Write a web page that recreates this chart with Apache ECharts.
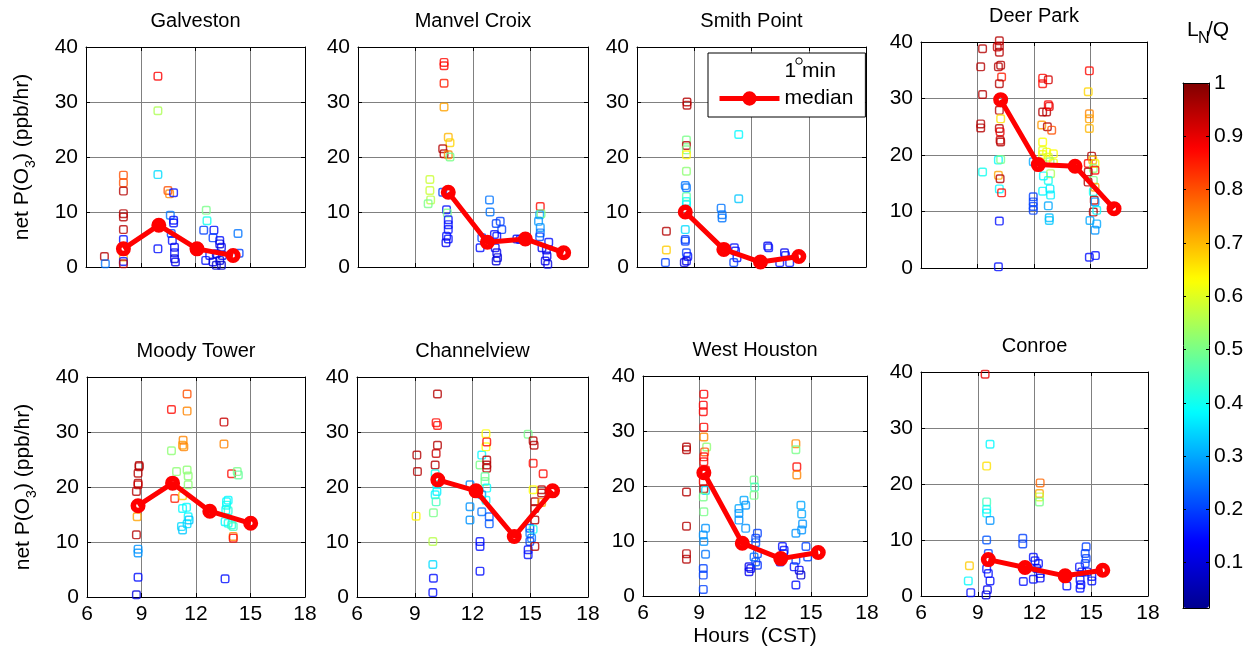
<!DOCTYPE html>
<html><head><meta charset="utf-8">
<script src="https://cdn.jsdelivr.net/npm/echarts@6/dist/echarts.min.js"></script>
<style>html,body{margin:0;padding:0;background:#fff}#c{width:1248px;height:653px}</style>
</head><body><div id="c"></div>
<script>
// ---------- DATA ----------
const stations = ['Galveston','Manvel Croix','Smith Point','Deer Park','Moody Tower','Channelview','West Houston','Conroe'];
// points: [hour (CST), net P(O3) ppb/hr, L_N/Q]
const galveston = [[7.01,1.9,0.95],[7.06,0.6,0.25],[8.05,16.7,0.8],[8.05,15.3,0.8],[8.05,13.8,0.95],[8.05,9.7,0.95],[8.05,9.1,0.95],[8.05,6.8,0.95],[8.05,5.0,0.15],[8.05,1.8,0.7],[8.05,1.0,0.15],[8.05,0.6,0.95],
 [9.94,34.7,0.88],[9.94,28.4,0.55],[9.94,16.8,0.35],[9.94,3.3,0.15],[10.49,13.9,0.8],[10.58,13.3,0.75],[10.8,13.5,0.15],[10.62,9.4,0.25],[10.8,8.5,0.15],[10.8,8.0,0.15],[10.67,6.1,0.2],[10.73,4.8,0.15],[10.85,3.6,0.12],[10.85,2.6,0.15],[10.85,1.5,0.1],[10.9,0.9,0.12],
 [12.59,10.3,0.5],[12.63,8.4,0.4],[12.45,6.7,0.2],[12.14,3.3,0.2],[12.56,1.2,0.15],[12.78,2.1,0.15],[13.01,6.7,0.15],[12.96,5.3,0.2],[13.33,4.8,0.15],[13.33,4.2,0.1],[13.42,3.6,0.12],[13.14,2.4,0.1],[12.96,0.9,0.1],[13.14,0.3,0.08],[13.42,0.3,0.08],[13.33,1.2,0.1],[13.47,2.1,0.12],[14.33,6.1,0.25],[14.39,2.5,0.2]];
const manvelCroix = [[10.49,37.2,0.87],[10.49,36.6,0.87],[10.49,33.4,0.85],[10.49,29.1,0.72],[10.71,23.6,0.7],[10.8,22.6,0.67],[10.42,21.5,0.95],[10.49,20.6,0.95],[10.71,20.4,0.75],[10.8,20.0,0.5],
 [9.75,15.9,0.58],[9.75,13.9,0.58],[9.79,12.2,0.56],[9.66,11.5,0.5],[10.42,13.6,0.2],[10.62,10.4,0.15],[10.66,9.8,0.5],[10.71,8.6,0.15],[10.71,7.7,0.15],[10.71,6.8,0.15],[10.62,5.6,0.15],[10.71,5.1,0.15],[10.59,4.4,0.12],
 [12.86,12.2,0.25],[12.89,10.0,0.25],[13.21,7.9,0.2],[13.42,8.3,0.2],[13.5,6.8,0.2],[13.12,5.9,0.15],[13.24,5.6,0.15],[12.37,3.5,0.15],[13.16,3.5,0.12],[13.24,2.6,0.12],[13.28,1.7,0.1],[13.21,1.1,0.1],[12.46,5.3,0.2],
 [14.29,5.1,0.15],[14.46,5.0,0.15],[14.67,5.1,0.2],[15.51,11.0,0.87],[15.48,9.5,0.3],[15.55,9.7,0.5],[15.42,8.3,0.28],[15.51,7.2,0.28],[15.51,6.2,0.25],[15.48,5.5,0.2],[15.95,4.5,0.15],[15.6,3.5,0.12],[15.83,3.1,0.12],[15.86,2.0,0.12],[15.77,1.1,0.12],[15.9,0.5,0.1]];
const smithPoint = [[7.49,0.8,0.2],[7.54,3.1,0.68],[7.54,6.5,0.95],[8.62,30.0,0.95],[8.62,29.4,0.95],[8.59,23.1,0.5],[8.59,22.1,0.95],[8.59,21.3,0.5],[8.59,20.4,0.64],[8.59,17.4,0.52],[8.53,14.8,0.25],[8.59,14.4,0.25],[8.59,12.8,0.47],[8.59,11.9,0.4],[8.59,11.3,0.38],[8.53,6.8,0.35],[8.53,5.0,0.2],[8.53,4.7,0.2],[8.59,2.6,0.2],[8.66,1.9,0.15],[8.59,1.1,0.12],[8.48,0.8,0.1],
 [10.41,10.7,0.25],[10.46,9.5,0.25],[10.46,8.9,0.25],[11.33,24.1,0.38],[11.33,12.4,0.33],[11.1,3.5,0.15],[11.16,2.9,0.15],[11.24,1.7,0.15],[11.07,0.8,0.2],
 [12.85,3.8,0.12],[12.9,3.5,0.15],[13.48,0.8,0.15],[13.73,2.6,0.12],[13.78,2.1,0.15],[14.0,0.8,0.15]];
const deerPark = [[9.27,38.8,0.95],[9.17,35.6,0.95],[9.27,30.7,0.95],[9.17,25.5,0.95],[9.17,24.8,0.95],[9.27,17.0,0.4],
 [10.16,40.2,0.95],[10.16,39.3,0.95],[10.05,39.1,0.93],[10.16,38.2,0.95],[10.23,35.9,0.95],[10.11,35.6,0.95],[10.28,33.8,0.85],[10.16,32.6,0.95],[10.16,27.9,0.95],[10.23,26.4,0.66],[10.16,24.7,0.95],[10.2,24.1,0.9],[10.2,22.6,0.93],[10.23,22.3,0.95],[10.11,19.1,0.38],[10.23,19.2,0.5],[10.11,16.4,0.72],[10.2,15.8,0.95],[10.16,14.0,0.38],[10.28,13.3,0.87],[10.16,8.3,0.15],[10.11,0.2,0.15],
 [12.46,33.6,0.87],[12.46,32.6,0.87],[12.76,33.3,0.92],[12.46,27.6,0.95],[12.67,27.6,0.95],[12.76,28.9,0.88],[12.81,28.6,0.9],[12.41,25.3,0.73],[12.71,25.0,0.95],[12.94,24.4,0.8],[12.46,22.3,0.63],[12.46,20.8,0.6],[12.67,20.5,0.62],[13.03,20.2,0.63],[12.46,20.1,0.62],[12.76,19.6,0.6],[12.85,18.8,0.52],[13.03,18.6,0.62],[11.96,18.8,0.3],[12.5,16.3,0.38],[12.88,16.7,0.55],[12.76,15.5,0.4],[12.46,13.6,0.38],[12.85,14.0,0.37],[12.88,12.9,0.37],[11.96,12.6,0.2],[11.96,11.7,0.2],[11.96,10.9,0.2],[11.96,10.2,0.2],[12.76,11.0,0.3],[12.81,8.9,0.32],[12.81,8.4,0.33],
 [14.94,34.9,0.87],[14.88,31.2,0.67],[14.94,27.3,0.75],[14.94,26.4,0.72],[14.94,24.7,0.7],[15.06,19.8,0.95],[14.88,18.5,0.87],[15.12,19.1,0.7],[15.24,18.5,0.62],[15.15,17.6,0.52],[15.24,17.3,0.87],[14.88,17.0,0.95],[14.87,15.2,0.95],[15.15,15.5,0.5],[15.24,14.3,0.72],[15.15,13.5,0.4],[15.2,12.0,0.95],[15.24,11.7,0.28],[15.15,9.9,0.95],[15.33,10.2,0.38],[14.97,8.4,0.3],[15.33,7.8,0.3],[15.24,6.7,0.28],[14.94,1.9,0.15],[15.26,2.2,0.15]];
const moodyTower = [[8.87,23.9,0.95],[8.87,23.7,0.95],[8.81,22.5,0.95],[8.81,20.7,0.95],[8.81,20.4,0.93],[8.72,19.2,0.95],[8.76,14.6,0.72],[8.72,11.3,0.95],[8.81,8.7,0.28],[8.81,8.0,0.28],[8.81,3.6,0.15],[8.72,0.4,0.1],
 [10.65,34.1,0.87],[10.65,26.6,0.52],[10.83,17.9,0.85],[10.93,22.8,0.52],[11.51,36.9,0.8],[11.51,33.8,0.75],[11.29,28.5,0.75],[11.26,27.6,0.73],[11.33,27.3,0.75],[11.51,23.1,0.52],[11.57,22.0,0.52],[11.57,20.4,0.52],[11.26,18.4,0.68],[11.26,16.1,0.38],[11.48,16.3,0.38],[11.57,14.6,0.38],[11.2,12.8,0.35],[11.26,12.2,0.33],[11.51,13.3,0.35],[11.62,14.0,0.33],
 [13.54,31.8,0.93],[13.54,27.8,0.75],[13.96,22.4,0.87],[14.27,22.8,0.5],[14.33,22.2,0.48],[13.68,17.3,0.38],[13.77,17.6,0.38],[13.68,16.7,0.4],[13.64,15.8,0.38],[13.77,15.7,0.42],[13.6,13.7,0.38],[13.77,13.4,0.4],[13.96,13.1,0.42],[14.05,12.8,0.45],[14.05,11.0,0.75],[14.05,10.7,0.87],[13.6,3.3,0.15]];
const channelview = [[9.11,25.8,0.95],[9.14,22.8,0.95],[9.07,14.7,0.64],
 [10.18,36.9,0.95],[10.11,31.7,0.87],[10.18,31.2,0.87],[10.18,27.6,0.95],[10.11,26.1,0.93],[10.06,24.0,0.95],[10.06,22.4,0.4],[10.15,20.4,0.38],[10.15,19.2,0.37],[10.06,18.6,0.38],[10.11,17.3,0.45],[9.97,15.3,0.5],[9.94,10.1,0.56],[9.94,5.9,0.35],[9.97,3.4,0.15],[9.94,0.8,0.15],
 [11.87,20.4,0.27],[11.87,16.4,0.28],[11.87,14.0,0.28],[12.48,25.8,0.38],[12.39,24.0,0.5],[12.7,29.7,0.63],[12.7,27.3,0.63],[12.74,28.2,0.87],[12.74,24.9,0.95],[12.74,24.0,0.95],[12.74,23.4,0.95],[12.65,21.9,0.48],[12.65,21.0,0.5],[12.74,19.8,0.38],[12.48,18.6,0.28],[12.7,17.6,0.38],[12.48,15.5,0.25],[12.87,14.6,0.22],[12.87,13.3,0.22],[12.39,10.1,0.15],[12.39,9.2,0.15],[12.39,4.7,0.15],
 [14.89,29.6,0.5],[15.15,28.4,0.95],[15.2,27.6,0.95],[15.15,24.3,0.87],[15.67,22.4,0.87],[15.59,19.5,0.95],[15.59,18.9,0.95],[15.15,19.5,0.63],[15.24,17.3,0.95],[15.59,17.2,0.72],[15.24,16.1,0.95],[15.24,14.0,0.95],[14.98,12.5,0.2],[15.15,12.3,0.4],[14.98,11.6,0.25],[15.07,10.7,0.25],[14.98,10.1,0.2],[14.89,8.6,0.15],[14.89,7.7,0.15],[15.24,9.2,0.95]];
const westHouston = [[8.33,27.1,0.95],[8.33,26.6,0.95],[8.33,18.9,0.95],[8.33,12.7,0.95],[8.33,7.7,0.95],[8.33,6.7,0.95],
 [9.26,36.7,0.88],[9.23,34.7,0.88],[9.23,33.5,0.88],[9.26,30.7,0.87],[9.26,28.9,0.75],[9.41,27.1,0.52],[9.3,26.2,0.8],[9.26,25.3,0.87],[9.26,24.4,0.87],[9.35,22.9,0.87],[9.23,20.8,0.87],[9.26,19.5,0.95],[9.35,19.2,0.35],[9.23,18.0,0.5],[9.26,15.3,0.5],[9.35,12.3,0.28],[9.23,11.1,0.28],[9.26,9.9,0.28],[9.35,7.6,0.25],[9.23,5.0,0.2],[9.23,3.8,0.2],[9.23,1.2,0.2],
 [11.14,15.9,0.3],[11.14,15.0,0.28],[11.14,13.8,0.28],[11.41,17.4,0.3],[11.5,16.5,0.28],[11.5,12.3,0.28],[11.95,21.1,0.5],[11.98,19.8,0.45],[11.95,18.3,0.5],[11.68,5.3,0.12],[11.77,5.0,0.12],[11.68,4.4,0.12],[12.13,11.4,0.2],[12.04,10.5,0.2],[12.04,9.7,0.22],[12.13,7.7,0.2],[11.95,7.1,0.25],[12.04,6.2,0.22],[12.13,5.6,0.18],
 [13.47,9.0,0.15],[13.56,8.3,0.15],[13.53,7.7,0.15],[13.35,6.2,0.15],[14.19,27.7,0.75],[14.19,26.6,0.5],[14.24,23.5,0.87],[14.24,22.0,0.75],[14.46,16.5,0.3],[14.5,14.9,0.3],[14.55,13.1,0.28],[14.5,12.0,0.28],[14.19,11.4,0.28],[14.19,2.0,0.15],[14.1,5.3,0.15],[14.37,4.7,0.12],[14.46,3.8,0.08],[14.19,6.5,0.2],[14.73,9.0,0.2],[14.82,7.1,0.2]];
const conroe = [[8.56,5.4,0.68],[8.5,2.7,0.38],[8.63,0.6,0.15],
 [9.39,39.6,0.9],[9.65,27.1,0.38],[9.47,23.2,0.66],[9.47,16.8,0.45],[9.47,15.5,0.4],[9.47,14.8,0.38],[9.65,13.5,0.28],[9.47,10.0,0.22],[9.56,7.6,0.2],[9.51,6.4,0.2],[9.47,4.8,0.15],[9.56,4.0,0.15],[9.65,2.7,0.15],[9.51,1.1,0.12],[9.44,0.2,0.1],
 [11.38,10.3,0.2],[11.38,9.3,0.2],[11.41,2.6,0.15],[11.94,6.9,0.15],[12.03,6.3,0.15],[12.21,5.8,0.15],[12.12,4.9,0.12],[11.94,3.0,0.15],[12.3,4.0,0.12],[12.3,3.2,0.12],[12.3,20.2,0.78],[12.26,18.3,0.72],[12.26,17.7,0.58],[12.26,16.8,0.5],
 [13.71,1.8,0.15],[14.38,5.2,0.15],[14.5,4.3,0.12],[14.41,2.9,0.15],[14.45,2.0,0.15],[14.41,1.4,0.15],[14.73,8.8,0.2],[14.68,7.6,0.2],[14.73,6.7,0.2],[14.68,5.8,0.2],[14.77,4.3,0.15],[15.03,3.5,0.15],[15.03,2.7,0.15]];

// medians: [hour, net P(O3)]
const galvestonMedian = [[8.05,3.3],[9.99,7.6],[12.08,3.3],[14.06,2.1]];
const manvelCroixMedian = [[10.71,13.6],[12.75,4.5],[14.73,5.1],[16.73,2.6]];
const smithPointMedian = [[8.53,10.0],[10.55,3.2],[12.47,0.9],[14.48,1.9]];
const deerParkMedian = [[10.23,29.8],[12.23,18.3],[14.18,18.0],[16.25,10.5]];
const moodyTowerMedian = [[8.81,16.6],[10.71,20.7],[12.76,15.6],[15.01,13.4]];
const channelviewMedian = [[10.2,21.3],[12.18,19.3],[14.17,11.0],[16.16,19.3]];
const westHoustonMedian = [[9.26,22.4],[11.32,9.6],[13.38,6.8],[15.39,7.9]];
const conroeMedian = [[9.56,6.5],[11.5,5.1],[13.62,3.6],[15.61,4.6]];

const pointSets = [galveston, manvelCroix, smithPoint, deerPark, moodyTower, channelview, westHouston, conroe];
const medianSets = [galvestonMedian, manvelCroixMedian, smithPointMedian, deerParkMedian, moodyTowerMedian, channelviewMedian, westHoustonMedian, conroeMedian];

const xTicks = {min: 6, max: 18, step: 3};
const yTicks = {min: 0, max: 40, step: 10};
const colorTicks = [0.1,0.2,0.3,0.4,0.5,0.6,0.7,0.8,0.9,1];
const colorRange = [0.015, 1];

// ---------- LAYOUT / STYLE ----------
const layout = [
  [86,47,219,220],[358,47,230,220],[637,47,229,220],[921,42,226,226],
  [87,377,218,220],[357,377,231,220],[643,376,224,220],[921,372,227,224]
];
const cbBox = [1183,83,26,525];
const FONT = '"Liberation Sans", Arial, Helvetica, sans-serif';
const JET = ['#00008F','#0000FF','#0080FF','#00FFFF','#80FF80','#FFFF00','#FF8000','#FF0000','#800000'];
const RING = 'path://M-5,-10L5,-10Q10,-10 10,-5L10,5Q10,10 5,10L-5,10Q-10,10 -10,5L-10,-5Q-10,-10 -5,-10Z M-4.5,-6.8Q-6.8,-6.8 -6.8,-4.5L-6.8,4.5Q-6.8,6.8 -4.5,6.8L4.5,6.8Q6.8,6.8 6.8,4.5L6.8,-4.5Q6.8,-6.8 4.5,-6.8Z';
const MRING = 'path://M0,-10A10,10 0 1,1 0,10A10,10 0 1,1 0,-10Z M0,-2.6A2.6,2.6 0 1,0 0,2.6A2.6,2.6 0 1,0 0,-2.6Z';

const grids = [], xAxes = [], yAxes = [], series = [], graphics = [];
const axisLine = {show:true, onZero:false, lineStyle:{color:'#000', width:1}};
const tick = {show:true, inside:true, length:4, lineStyle:{color:'#000', width:1}};
const labelStyle = {fontSize:21, color:'#000', fontFamily:FONT};

layout.forEach((b, i) => {
  const bottomRow = i >= 4;
  grids.push({left:b[0], top:b[1], width:b[2], height:b[3], show:false});
  xAxes.push({gridIndex:i, type:'value', min:xTicks.min, max:xTicks.max, interval:xTicks.step, position:'bottom',
    axisLine, axisTick:tick, axisLabel:Object.assign({show:bottomRow, margin:7}, labelStyle),
    splitLine:{show:true, lineStyle:{color:'#808080', width:1}},
    name: i === 6 ? 'Hours  (CST)' : '', nameLocation:'middle', nameGap:30, nameTextStyle:labelStyle});
  xAxes.push({gridIndex:i, type:'value', min:xTicks.min, max:xTicks.max, interval:xTicks.step, position:'top',
    axisLine, axisTick:tick, axisLabel:{show:false}, splitLine:{show:false}});
  yAxes.push({gridIndex:i, type:'value', min:yTicks.min, max:yTicks.max, interval:yTicks.step, position:'left',
    axisLine, axisTick:tick, axisLabel:Object.assign({show:true, margin:8}, labelStyle),
    splitLine:{show:true, lineStyle:{color:'#808080', width:1}},
    name: (i === 0 || i === 4) ? '{a|net P(O}{s|3}{a|) (ppb/hr)}' : '', nameLocation:'middle', nameRotate:90, nameGap:50,
    nameTextStyle:{rich:{a:{fontSize:21, fontFamily:FONT, color:'#000', lineHeight:24, verticalAlign:'top'},
                         s:{fontSize:14, fontFamily:FONT, color:'#000', lineHeight:14, padding:[12,0,0,0], verticalAlign:'top'}}}});
  yAxes.push({gridIndex:i, type:'value', min:yTicks.min, max:yTicks.max, interval:yTicks.step, position:'right',
    axisLine, axisTick:tick, axisLabel:{show:false}, splitLine:{show:false}});
  series.push({type:'scatter', name:'1 min', xAxisIndex:2*i, yAxisIndex:2*i, data:pointSets[i],
    symbol:RING, symbolSize:9, clip:false, z:2, silent:true, animation:false});
  series.push({type:'line', name:'median', xAxisIndex:2*i, yAxisIndex:2*i, data:medianSets[i],
    symbol:MRING, symbolSize:15, showSymbol:true, clip:false, z:5, silent:true, animation:false,
    lineStyle:{color:'#FF0000', width:5}, itemStyle:{color:'#FF0000'}});
  graphics.push({type:'text', x:b[0] + b[2]/2, y:b[1] - 26, z:10,
    style:{text:stations[i], fontSize:20, fontFamily:FONT, fill:'#000', align:'center', verticalAlign:'middle'}});
});

// colorbar frame + labels
grids.push({left:cbBox[0], top:cbBox[1], width:cbBox[2], height:cbBox[3], show:false});
xAxes.push({gridIndex:8, type:'value', min:0, max:1, position:'bottom', z:10, axisLine, axisTick:{show:false}, axisLabel:{show:false}, splitLine:{show:false}});
xAxes.push({gridIndex:8, type:'value', min:0, max:1, position:'top', z:10, axisLine, axisTick:{show:false}, axisLabel:{show:false}, splitLine:{show:false}});
yAxes.push({gridIndex:8, type:'value', min:colorRange[0], max:colorRange[1], position:'left', z:10, axisLine,
  axisTick:Object.assign({customValues:colorTicks}, tick, {length:3}), axisLabel:{show:false}, splitLine:{show:false}});
yAxes.push({gridIndex:8, type:'value', min:colorRange[0], max:colorRange[1], position:'right', z:10, axisLine,
  axisTick:Object.assign({customValues:colorTicks}, tick, {length:3}),
  axisLabel:Object.assign({show:true, margin:5, customValues:colorTicks, formatter:v => String(+v.toFixed(2))}, labelStyle),
  splitLine:{show:false}});

graphics.push({type:'text', x:1187, y:30, z:10, style:{text:'L', fontSize:21, fontFamily:FONT, fill:'#000', align:'left', verticalAlign:'middle'}});
graphics.push({type:'text', x:1198, y:39, z:10, style:{text:'N', fontSize:16, fontFamily:FONT, fill:'#000', align:'left', verticalAlign:'middle'}});
graphics.push({type:'text', x:1207, y:30, z:10, style:{text:'/Q', fontSize:21, fontFamily:FONT, fill:'#000', align:'left', verticalAlign:'middle'}});
graphics.push({type:'circle', z:100, shape:{cx:799, cy:61, r:3.2}, style:{fill:'none', stroke:'#000', lineWidth:1}});

const chart = echarts.init(document.getElementById('c'), null, {renderer:'canvas'});
chart.setOption({
  animation:false,
  backgroundColor:'#fff',
  grid:grids, xAxis:xAxes, yAxis:yAxes, series,
  visualMap:{type:'continuous', min:colorRange[0], max:colorRange[1], dimension:2,
    seriesIndex:[0,2,4,6,8,10,12,14], inRange:{color:JET}, calculable:false, hoverLink:false,
    left:cbBox[0], top:cbBox[1], itemWidth:cbBox[2], itemHeight:cbBox[3], padding:0, orient:'vertical'},
  legend:{show:true, orient:'vertical', left:708, top:53, padding:[8,12,8,9], itemGap:6, itemWidth:60, itemHeight:18,
    borderColor:'#000', borderWidth:1, borderRadius:0, backgroundColor:'#fff', selectedMode:false, z:20,
    textStyle:{fontSize:21, color:'#000', fontFamily:FONT},
    data:[{name:'1 min', itemStyle:{opacity:0}}, {name:'median', lineStyle:{width:5, color:'#FF0000'}}]},
  graphic:{elements:graphics}
});
</script></body></html>
